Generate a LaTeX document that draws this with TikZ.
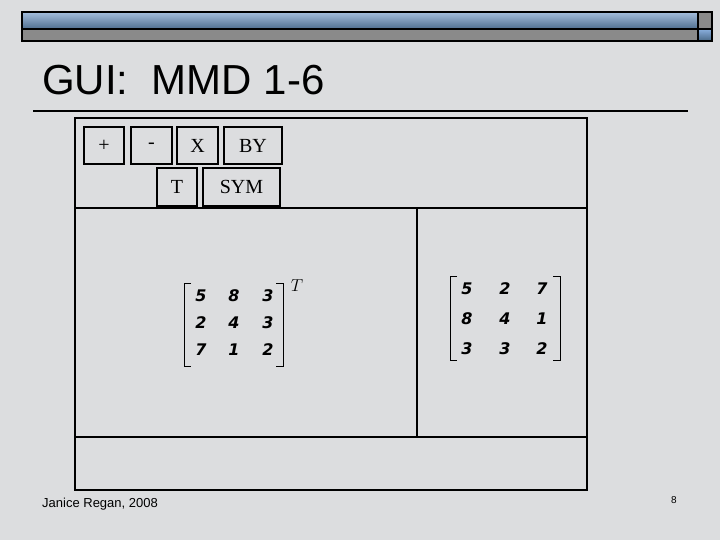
\documentclass[tikz,border=0pt]{standalone}
\usepackage{fontspec}
\setmainfont{Liberation Serif}
\newfontfamily\arial{Liberation Sans}
\newfontfamily\djv{DejaVu Sans}
\definecolor{bg}{HTML}{DCDDDF}
\definecolor{barblue}{HTML}{7FA3CF}
\definecolor{bardark}{HTML}{4F6E8E}
\definecolor{bargray}{HTML}{8A8A8A}
\begin{document}
\begin{tikzpicture}[x=1pt,y=-1pt,
  btn/.style={draw,line width=2pt,inner sep=0,font=\fontsize{20}{20}\selectfont},
  frame/.style={line width=2.2pt},
  dig/.style={font=\djv\bfseries\itshape\fontsize{16}{16}\selectfont}]
\fill[bg] (0,0) rectangle (720,540);
\useasboundingbox (0,0) rectangle (720,540);
% top bar
\shade[top color=barblue!70!white,bottom color=bardark] (22,12) rectangle (698,29);
\fill[bargray] (22,29) rectangle (698,41);
\fill[bargray] (698,12) rectangle (712,41);
\shade[top color=barblue,bottom color=bardark] (698,31) rectangle (712,40);
\draw[line width=1.5pt] (22,12) rectangle (712,41);
\draw[line width=1.5pt] (22,29) -- (712,29);
\draw[line width=1.5pt] (698,12) -- (698,41);
% title
\node[anchor=base west,inner sep=0,font=\arial\fontsize{42}{42}\selectfont] (title) at (42,95) {GUI:\ \ MMD 1-6};
\draw[line width=1.2pt] (33,111) -- (688,111);
% window
\draw[frame] (75,118) rectangle (587,490);
\draw[frame] (75,208) -- (587,208);
\draw[frame] (417,208) -- (417,437);
\draw[frame] (75,437) -- (587,437);
% buttons
\node[btn,minimum width=40,minimum height=37] (plus) at (104,145.5) {+};
\node[btn,minimum width=41,minimum height=37] (minus) at (151.5,145.5) {-};
\node[btn,minimum width=41,minimum height=37] (xb) at (197.5,145.5) {X};
\node[btn,minimum width=58,minimum height=37] (by) at (253,145.5) {BY};
\node[btn,minimum width=40,minimum height=38] (tb) at (177,187) {T};
\node[btn,minimum width=77,minimum height=38] (sym) at (241.5,187) {SYM};
% left matrix
\draw[line width=0.8pt] (191,283) -- (184,283) -- (184,366) -- (191,366);
\draw[line width=0.8pt] (276,283) -- (283,283) -- (283,366) -- (276,366);
\foreach \r/\a/\b/\c [count=\i] in {0/5/8/3,1/2/4/3,2/7/1/2}{
  \node[dig] (l\i a) at (201,{296+27*\r}) {\a};
  \node[dig] (l\i b) at (234,{296+27*\r}) {\b};
  \node[dig] (l\i c) at (268,{296+27*\r}) {\c};
}
\node[font=\itshape\fontsize{17}{17}\selectfont] (sup) at (297,286) {$T$};
% right matrix
\draw[line width=0.8pt] (457,276) -- (450,276) -- (450,360) -- (457,360);
\draw[line width=0.8pt] (553,276) -- (560,276) -- (560,360) -- (553,360);
\foreach \r/\a/\b/\c [count=\i] in {0/5/2/7,1/8/4/1,2/3/3/2}{
  \node[dig] (r\i a) at (467,{289+30*\r}) {\a};
  \node[dig] (r\i b) at (505,{289+30*\r}) {\b};
  \node[dig] (r\i c) at (542,{289+30*\r}) {\c};
}
% footer
\node[anchor=base west,inner sep=0,font=\arial\fontsize{13}{13}\selectfont] (auth) at (42,507) {Janice Regan, 2008};
\node[anchor=base,inner sep=0,font=\arial\fontsize{10}{10}\selectfont] (pg) at (674,503) {8};
\end{tikzpicture}
\end{document}
